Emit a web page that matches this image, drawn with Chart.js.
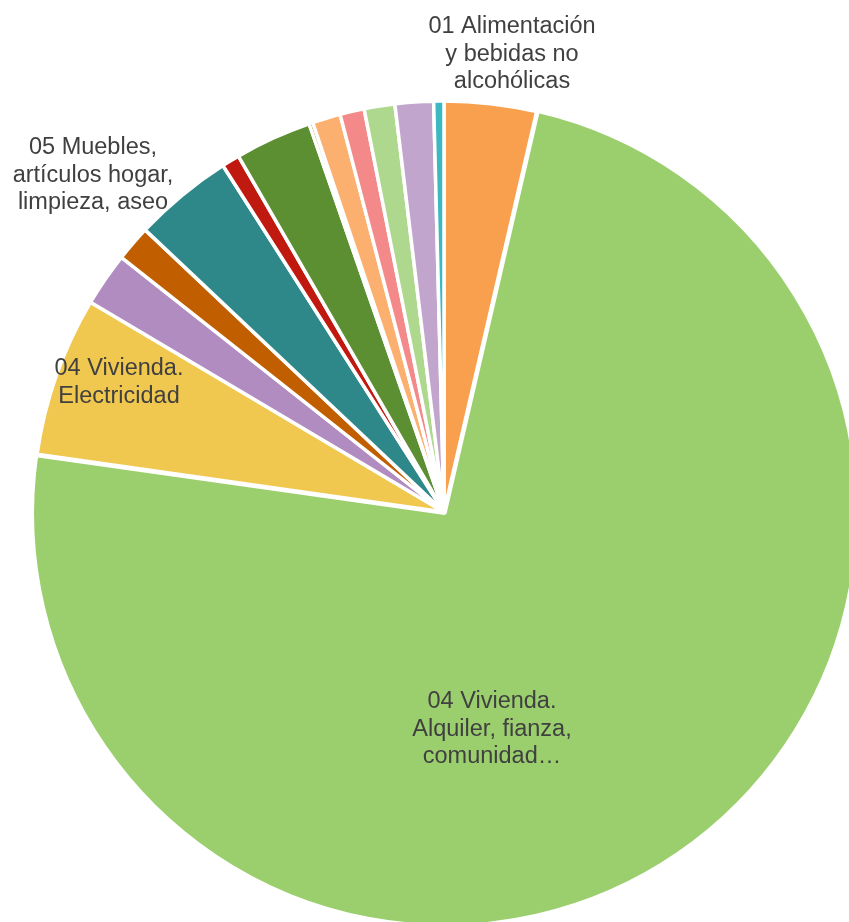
<!DOCTYPE html>
<html>
<head>
<meta charset="utf-8">
<script src="https://cdn.jsdelivr.net/npm/chart.js@4.4.1/dist/chart.umd.min.js"></script>
<style>
  html, body { margin:0; padding:0; background:#fff; overflow:hidden; width:849px; height:922px }
  #wrap { position:absolute; left:0; top:0 }
</style>
</head>
<body>
<div id="wrap"><canvas id="c" width="900" height="1000"></canvas></div>
<script>
// Gasto por grupo (%), orden horario desde las 12
const categories = [
  '01 Alimentación y bebidas no alcohólicas',
  '04 Vivienda. Alquiler, fianza, comunidad…',
  '04 Vivienda. Electricidad',
  '04 Vivienda. Agua',
  '04 Vivienda. Gas',
  '05 Muebles, artículos hogar, limpieza, aseo',
  '06 Sanidad',
  '07 Transporte',
  '08 Comunicaciones',
  '09 Ocio y cultura',
  '10 Enseñanza',
  '11 Restaurantes y hoteles',
  '12 Otros bienes y servicios',
  '02 Bebidas alcohólicas y tabaco'
]
const shares = [3.6, 73.3, 6.25, 2.1, 1.4, 3.9, 0.7, 3.0, 0.15, 1.1, 0.95, 1.2, 1.5, 0.4]
const colors = ['#F8A04E','#9BCF6E','#F0C850','#B18CC0','#C05E00','#2E888A','#C0190F',
                '#5B8F31','#A07800','#FBB070','#F4898A','#AED88D','#C2A5CD','#3BB8C0']
const offsets = [0, 6, 0, 0, 0, 0, 0, 0, 0, 0, 0, 0, 0, 0]

// which slices get a label, and where the text block sits
const labelLines = {
  0: ['01 Alimentación', 'y bebidas no', 'alcohólicas'],
  1: ['04 Vivienda.', 'Alquiler, fianza,', 'comunidad…'],
  2: ['04 Vivienda.', 'Electricidad'],
  5: ['05 Muebles,', 'artículos hogar,', 'limpieza, aseo']
}
const labelAt = { 0:[512,27], 1:[492,702], 2:[119,369], 5:[93,148] }

const sliceLabels = {
  id:'sliceLabels',
  afterDraw(chart){
    const ctx = chart.ctx
    ctx.save()
    ctx.font = '23.5px "Liberation Sans", Arial, sans-serif'
    ctx.fillStyle = '#404040'
    ctx.textAlign = 'center'
    ctx.textBaseline = 'middle'
    Object.keys(labelLines).forEach(k => {
      const [x, y] = labelAt[k]
      labelLines[k].forEach((ln, i) => ctx.fillText(ln, x, y + i*27.5))
    })
    ctx.restore()
  }
}

new Chart(document.getElementById('c'), {
  type:'pie',
  data:{ labels:categories, datasets:[{
    data:shares, backgroundColor:colors, borderColor:'#fff', borderWidth:3.5,
    hoverBorderWidth:3.5, offset:offsets, hoverOffset:0
  }]},
  options:{
    responsive:false, animation:false,
    layout:{ padding:{ left:28.25, right:40.25, top:96.25, bottom:72.25 } },
    plugins:{ legend:{ display:false }, tooltip:{ enabled:false } }
  },
  plugins:[sliceLabels]
})
</script>
</body>
</html>
